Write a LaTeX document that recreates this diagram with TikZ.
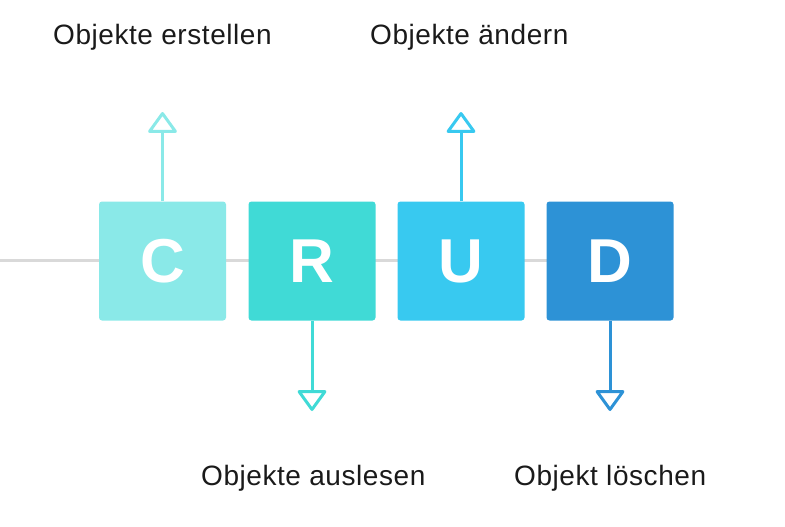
\documentclass[tikz,border=0pt]{standalone}
\usepackage{fontspec}
\setmainfont{Liberation Sans}
\newfontfamily\lblfont[LetterSpace=2]{Liberation Sans}
\usetikzlibrary{arrows.meta}
\definecolor{cC}{HTML}{8AE9E8}
\definecolor{cR}{HTML}{40DAD6}
\definecolor{cU}{HTML}{38C9F0}
\definecolor{cD}{HTML}{2D92D6}
\definecolor{lineGray}{HTML}{D9D9D9}
\definecolor{txt}{HTML}{1A1A1A}
\begin{document}
\begin{tikzpicture}[x=1pt,y=-1pt,
  letterbox/.style={rectangle, rounded corners=3pt, minimum width=127pt, minimum height=119pt, inner sep=0pt,
    text=white, font=\fontsize{62}{62}\selectfont\bfseries},
  conn/.style={line width=3pt, -{Triangle[open, length=22pt, width=31pt, line join=round]}},
  track/.style={line width=3pt, lineGray},
  lbl/.style={anchor=base west, inner sep=0pt, text=txt, font=\lblfont\fontsize{28}{28}\selectfont}]
\useasboundingbox (0,0) rectangle (785,527);
\coordinate (lineStart) at (0,260);
\coordinate (lineEnd) at (548,260);
\draw[track] (lineStart) -- (lineEnd);
\node[letterbox, fill=cC] (C) at (162.5,261) {C};
\node[letterbox, fill=cR] (R) at (312,261) {R};
\node[letterbox, fill=cU] (U) at (461,261) {U};
\node[letterbox, fill=cD] (D) at (610,261) {D};
\coordinate (cEnd) at (162.5,112);
\coordinate (rEnd) at (312,411);
\coordinate (uEnd) at (461,112);
\coordinate (dEnd) at (610,411);
\draw[conn, cC] (C.north) -- (cEnd);
\draw[conn, cR] (R.south) -- (rEnd);
\draw[conn, cU] (U.north) -- (uEnd);
\draw[conn, cD] (D.south) -- (dEnd);
\node[lbl] (lC) at (53,45) {Objekte erstellen};
\node[lbl] (lU) at (370,45) {Objekte ändern};
\node[lbl] (lR) at (201,485) {Objekte auslesen};
\node[lbl] (lD) at (514,485) {Objekt löschen};
\end{tikzpicture}
\end{document}
